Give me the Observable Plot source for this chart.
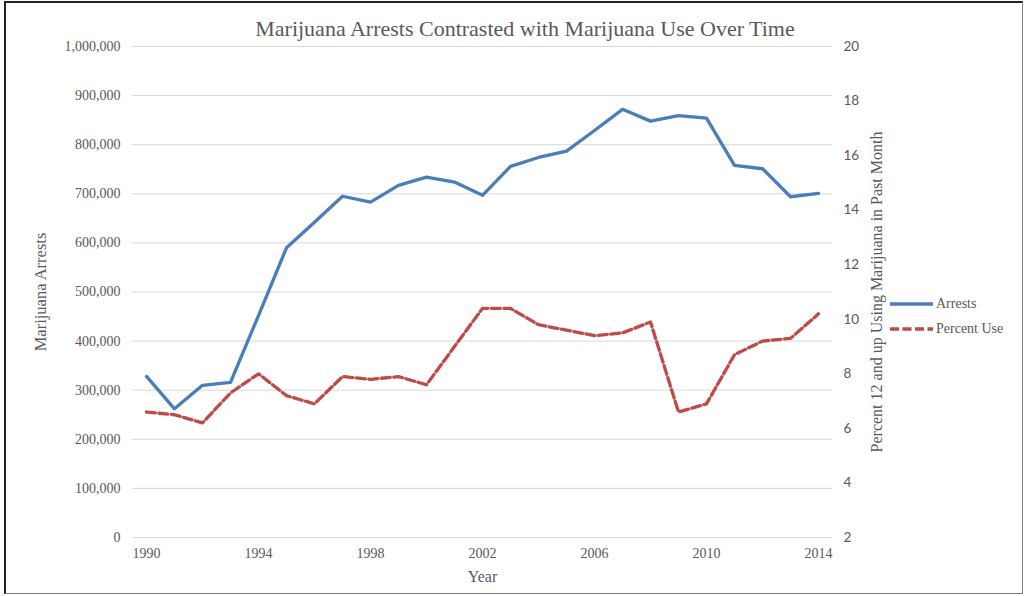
<!DOCTYPE html>
<html>
<head>
<meta charset="utf-8">
<script src="https://cdn.jsdelivr.net/npm/d3@7"></script>
<script src="https://cdn.jsdelivr.net/npm/@observablehq/plot@0.6"></script>
<style>
  html, body { margin: 0; padding: 0; background: #fff; }
  #wrap { position: relative; width: 1028px; height: 596px; overflow: hidden; font-family: "Liberation Serif", serif; color: #595959; }
  #frame { position: absolute; left: 4px; top: 1px; width: 1019px; height: 593px; border: 1px solid #7f7f7f; border-left: 2px solid #222; border-top: 2px solid #222; box-sizing: border-box; pointer-events: none; }
  #title { position: absolute; left: 0; width: 1050px; top: 16px; text-align: center; font-size: 22px; color: #595959; }
  .leg { position: absolute; left: 890px; font-size: 14px; color: #595959; display: flex; align-items: center; }
  .leg svg { margin-right: 3px; }
  svg.plot { position: absolute; left: 0; top: 0; }
</style>
</head>
<body>
<div id="wrap">
  <div id="title">Marijuana Arrests Contrasted with Marijuana Use Over Time</div>
  <div class="leg" style="top:296px"><svg width="43" height="8"><line x1="0" x2="43" y1="4" y2="4" stroke="#4A7EBB" stroke-width="3.3"/></svg>Arrests</div>
  <div class="leg" style="top:321px"><svg width="43" height="8"><line x1="0" x2="43" y1="4" y2="4" stroke="#BE4B48" stroke-width="3.3" stroke-dasharray="9,3.5"/></svg>Percent Use</div>
  <div id="frame"></div>
</div>
<script>
const years = [1990,1991,1992,1993,1994,1995,1996,1997,1998,1999,2000,2001,2002,2003,2004,2005,2006,2007,2008,2009,2010,2011,2012,2013,2014];
const arrests = [328000,262000,310000,316000,452000,590000,642000,695000,683000,717000,734000,724000,697000,756000,774000,787000,829000,872000,848000,859000,854000,758000,751000,694000,701000];
const percentUse = [6.6,6.5,6.2,7.3,8.0,7.2,6.9,7.9,7.8,7.9,7.6,9.0,10.4,10.4,9.8,9.6,9.4,9.5,9.9,6.6,6.9,8.7,9.2,9.3,10.2];
const leftTicks = [0,100000,200000,300000,400000,500000,600000,700000,800000,900000,1000000];
const rightTicks = [2,4,6,8,10,12,14,16,18,20];
const xTicks = [1990,1994,1998,2002,2006,2010,2014];

const toY = p => (p - 2) / 18 * 1000000;
const fromY = v => Math.round(v / 1000000 * 18 + 2);

const arrestData = years.map((yr, i) => ({year: yr, value: arrests[i]}));
const useData = years.map((yr, i) => ({year: yr, value: toY(percentUse[i])}));

const chart = Plot.plot({
  width: 1028,
  height: 596,
  marginTop: 46,
  marginBottom: 59,
  marginLeft: 132,
  marginRight: 196,
  style: {fontFamily: "Liberation Serif, serif", fontSize: "14px", color: "#595959", background: "transparent"},
  x: {domain: [1989.5, 2014.5]},
  y: {domain: [0, 1000000]},
  marks: [
    Plot.ruleY(leftTicks, {stroke: "#d9d9d9", strokeWidth: 1}),
    Plot.axisY(leftTicks, {anchor: "left", tickSize: 0, tickPadding: 12, tickFormat: d => d3.format(",")(d), label: null}),
    Plot.axisY(rightTicks.map(toY), {anchor: "right", tickSize: 0, tickPadding: 11, tickFormat: d => String(fromY(d)), label: null, fontFamily: "Lato, sans-serif", fontSize: 13.5}),
    Plot.axisX(xTicks, {anchor: "bottom", tickSize: 0, tickPadding: 11, tickFormat: d => String(d), label: null}),
    Plot.text(["Marijuana Arrests"], {frameAnchor: "left", dx: -92, rotate: -90, textAnchor: "middle", fontSize: 16.5, text: d => d}),
    Plot.text(["Percent 12 and up Using Marijuana in Past Month"], {frameAnchor: "right", dx: 44, rotate: -90, textAnchor: "middle", fontSize: 16, text: d => d}),
    Plot.text(["Year"], {frameAnchor: "bottom", dy: 44, fontSize: 16, text: d => d}),
    Plot.line(arrestData, {x: "year", y: "value", stroke: "#4A7EBB", strokeWidth: 3.3, strokeLinejoin: "round"}),
    Plot.line(useData, {x: "year", y: "value", stroke: "#BE4B48", strokeWidth: 3.3, strokeDasharray: "9,3.5", strokeLinejoin: "round"})
  ]
});
document.getElementById("wrap").insertBefore(chart, document.getElementById("title"));
</script>
</body>
</html>
